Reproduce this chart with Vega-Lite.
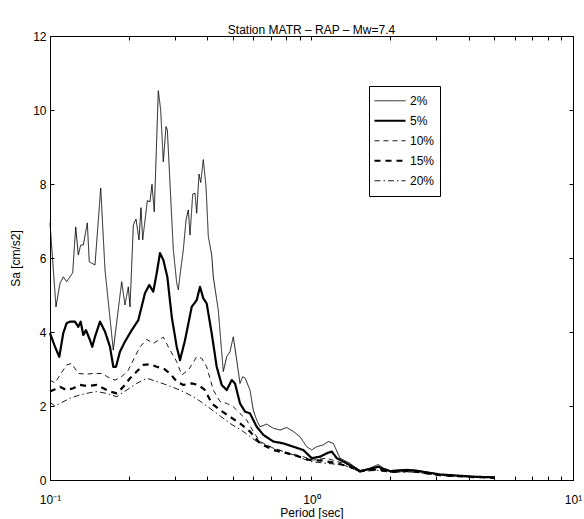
{
  "$schema": "https://vega.github.io/schema/vega-lite/v6.json",
  "width": 523,
  "height": 444,
  "autosize": "none",
  "padding": {"left": 50, "top": 36, "right": 11, "bottom": 39},
  "background": "white",
  "config": {
    "font": "Liberation Sans",
    "view": {"stroke": "black", "strokeWidth": 1},
    "axis": {"grid": false, "domainColor": "black", "tickColor": "black", "labelColor": "black", "titleColor": "black", "labelFontSize": 12, "titleFontSize": 12, "titleFontWeight": "normal", "labelFont": "Liberation Sans", "titleFont": "Liberation Sans"}
  },
  "title": {"text": "Station MATR – RAP – Mw=7.4", "fontSize": 12, "fontWeight": "normal", "color": "black", "offset": 0, "dy": 7, "anchor": "middle", "font": "Liberation Sans"},
  "data": {"values": [
    {"d":"2%","T":0.1,"Sa":6.95},{"d":"2%","T":0.1054,"Sa":4.68},{"d":"2%","T":0.1092,"Sa":5.32},{"d":"2%","T":0.1124,"Sa":5.49},{"d":"2%","T":0.1158,"Sa":5.36},{"d":"2%","T":0.1221,"Sa":5.6},{"d":"2%","T":0.1254,"Sa":6.84},{"d":"2%","T":0.1283,"Sa":6.08},{"d":"2%","T":0.131,"Sa":6.35},{"d":"2%","T":0.1341,"Sa":6.35},{"d":"2%","T":0.1389,"Sa":6.95},{"d":"2%","T":0.1413,"Sa":5.9},{"d":"2%","T":0.1486,"Sa":5.81},{"d":"2%","T":0.1563,"Sa":7.89},{"d":"2%","T":0.1623,"Sa":5.68},{"d":"2%","T":0.1746,"Sa":3.51},{"d":"2%","T":0.188,"Sa":5.36},{"d":"2%","T":0.1935,"Sa":4.73},{"d":"2%","T":0.1993,"Sa":5.22},{"d":"2%","T":0.2023,"Sa":4.68},{"d":"2%","T":0.2083,"Sa":6.89},{"d":"2%","T":0.2133,"Sa":7.05},{"d":"2%","T":0.2189,"Sa":6.49},{"d":"2%","T":0.2228,"Sa":7.36},{"d":"2%","T":0.2262,"Sa":6.49},{"d":"2%","T":0.2356,"Sa":7.55},{"d":"2%","T":0.2412,"Sa":7.52},{"d":"2%","T":0.2455,"Sa":7.99},{"d":"2%","T":0.2505,"Sa":7.25},{"d":"2%","T":0.2595,"Sa":10.52},{"d":"2%","T":0.265,"Sa":10.0},{"d":"2%","T":0.2712,"Sa":8.6},{"d":"2%","T":0.2777,"Sa":9.55},{"d":"2%","T":0.281,"Sa":9.46},{"d":"2%","T":0.2962,"Sa":6.22},{"d":"2%","T":0.3052,"Sa":5.32},{"d":"2%","T":0.3095,"Sa":5.14},{"d":"2%","T":0.3142,"Sa":5.54},{"d":"2%","T":0.3235,"Sa":6.22},{"d":"2%","T":0.3313,"Sa":7.03},{"d":"2%","T":0.3381,"Sa":7.3},{"d":"2%","T":0.3431,"Sa":6.62},{"d":"2%","T":0.3514,"Sa":7.73},{"d":"2%","T":0.3585,"Sa":7.75},{"d":"2%","T":0.3639,"Sa":7.21},{"d":"2%","T":0.3714,"Sa":8.27},{"d":"2%","T":0.377,"Sa":8.04},{"d":"2%","T":0.3857,"Sa":8.66},{"d":"2%","T":0.395,"Sa":7.93},{"d":"2%","T":0.4031,"Sa":6.58},{"d":"2%","T":0.4154,"Sa":6.08},{"d":"2%","T":0.4212,"Sa":5.49},{"d":"2%","T":0.4401,"Sa":4.59},{"d":"2%","T":0.4599,"Sa":2.93},{"d":"2%","T":0.4739,"Sa":3.33},{"d":"2%","T":0.4879,"Sa":3.47},{"d":"2%","T":0.5023,"Sa":3.87},{"d":"2%","T":0.5176,"Sa":3.24},{"d":"2%","T":0.5328,"Sa":2.61},{"d":"2%","T":0.5456,"Sa":2.79},{"d":"2%","T":0.5568,"Sa":2.76},{"d":"2%","T":0.5818,"Sa":2.43},{"d":"2%","T":0.5989,"Sa":1.89},{"d":"2%","T":0.6171,"Sa":1.62},{"d":"2%","T":0.6354,"Sa":1.44},{"d":"2%","T":0.6741,"Sa":1.51},{"d":"2%","T":0.7143,"Sa":1.4},{"d":"2%","T":0.7578,"Sa":1.35},{"d":"2%","T":0.804,"Sa":1.42},{"d":"2%","T":0.8521,"Sa":1.31},{"d":"2%","T":0.9036,"Sa":1.17},{"d":"2%","T":0.9587,"Sa":0.9},{"d":"2%","T":1.002,"Sa":0.81},{"d":"2%","T":1.047,"Sa":0.9},{"d":"2%","T":1.11,"Sa":0.95},{"d":"2%","T":1.159,"Sa":1.04},{"d":"2%","T":1.212,"Sa":0.99},{"d":"2%","T":1.285,"Sa":0.59},{"d":"2%","T":1.403,"Sa":0.45},{"d":"2%","T":1.533,"Sa":0.25},{"d":"2%","T":1.674,"Sa":0.32},{"d":"2%","T":1.801,"Sa":0.42},{"d":"2%","T":1.882,"Sa":0.32},{"d":"2%","T":1.996,"Sa":0.25},{"d":"2%","T":2.312,"Sa":0.29},{"d":"2%","T":2.525,"Sa":0.26},{"d":"2%","T":3.1,"Sa":0.15},{"d":"2%","T":4.157,"Sa":0.09},{"d":"2%","T":5.03,"Sa":0.07},
    {"d":"5%","T":0.1,"Sa":3.97},{"d":"5%","T":0.1045,"Sa":3.6},{"d":"5%","T":0.1085,"Sa":3.33},{"d":"5%","T":0.1124,"Sa":3.97},{"d":"5%","T":0.1158,"Sa":4.24},{"d":"5%","T":0.1192,"Sa":4.28},{"d":"5%","T":0.1246,"Sa":4.28},{"d":"5%","T":0.1283,"Sa":4.14},{"d":"5%","T":0.131,"Sa":4.28},{"d":"5%","T":0.1341,"Sa":3.92},{"d":"5%","T":0.1373,"Sa":4.05},{"d":"5%","T":0.1422,"Sa":3.78},{"d":"5%","T":0.1451,"Sa":3.6},{"d":"5%","T":0.1486,"Sa":3.87},{"d":"5%","T":0.1553,"Sa":4.28},{"d":"5%","T":0.1623,"Sa":4.01},{"d":"5%","T":0.1696,"Sa":3.6},{"d":"5%","T":0.1746,"Sa":3.06},{"d":"5%","T":0.1788,"Sa":3.06},{"d":"5%","T":0.1852,"Sa":3.47},{"d":"5%","T":0.1935,"Sa":3.74},{"d":"5%","T":0.2054,"Sa":4.05},{"d":"5%","T":0.2176,"Sa":4.32},{"d":"5%","T":0.2308,"Sa":5.05},{"d":"5%","T":0.2397,"Sa":5.27},{"d":"5%","T":0.2483,"Sa":5.09},{"d":"5%","T":0.2559,"Sa":5.59},{"d":"5%","T":0.2634,"Sa":6.13},{"d":"5%","T":0.2712,"Sa":5.95},{"d":"5%","T":0.281,"Sa":5.49},{"d":"5%","T":0.2921,"Sa":4.41},{"d":"5%","T":0.3052,"Sa":3.6},{"d":"5%","T":0.3142,"Sa":3.24},{"d":"5%","T":0.3284,"Sa":3.78},{"d":"5%","T":0.3483,"Sa":4.68},{"d":"5%","T":0.3639,"Sa":4.86},{"d":"5%","T":0.3747,"Sa":5.22},{"d":"5%","T":0.3857,"Sa":4.91},{"d":"5%","T":0.3974,"Sa":4.77},{"d":"5%","T":0.4154,"Sa":3.96},{"d":"5%","T":0.434,"Sa":3.06},{"d":"5%","T":0.4535,"Sa":2.57},{"d":"5%","T":0.4739,"Sa":2.43},{"d":"5%","T":0.4953,"Sa":2.7},{"d":"5%","T":0.5099,"Sa":2.61},{"d":"5%","T":0.5328,"Sa":2.07},{"d":"5%","T":0.5568,"Sa":1.85},{"d":"5%","T":0.5818,"Sa":1.8},{"d":"5%","T":0.6171,"Sa":1.44},{"d":"5%","T":0.6542,"Sa":1.22},{"d":"5%","T":0.7143,"Sa":1.04},{"d":"5%","T":0.7803,"Sa":0.99},{"d":"5%","T":0.8521,"Sa":0.9},{"d":"5%","T":0.9303,"Sa":0.81},{"d":"5%","T":1.002,"Sa":0.59},{"d":"5%","T":1.078,"Sa":0.63},{"d":"5%","T":1.143,"Sa":0.72},{"d":"5%","T":1.195,"Sa":0.77},{"d":"5%","T":1.249,"Sa":0.59},{"d":"5%","T":1.363,"Sa":0.45},{"d":"5%","T":1.533,"Sa":0.24},{"d":"5%","T":1.674,"Sa":0.3},{"d":"5%","T":1.801,"Sa":0.36},{"d":"5%","T":1.882,"Sa":0.3},{"d":"5%","T":1.996,"Sa":0.24},{"d":"5%","T":2.312,"Sa":0.27},{"d":"5%","T":2.525,"Sa":0.25},{"d":"5%","T":3.1,"Sa":0.15},{"d":"5%","T":4.157,"Sa":0.09},{"d":"5%","T":5.03,"Sa":0.07},
    {"d":"10%","T":0.1,"Sa":2.7},{"d":"10%","T":0.1045,"Sa":2.62},{"d":"10%","T":0.1092,"Sa":2.84},{"d":"10%","T":0.1158,"Sa":3.11},{"d":"10%","T":0.121,"Sa":3.15},{"d":"10%","T":0.1283,"Sa":2.88},{"d":"10%","T":0.1381,"Sa":2.86},{"d":"10%","T":0.1464,"Sa":2.88},{"d":"10%","T":0.1576,"Sa":2.88},{"d":"10%","T":0.1696,"Sa":2.75},{"d":"10%","T":0.1773,"Sa":2.7},{"d":"10%","T":0.188,"Sa":2.79},{"d":"10%","T":0.1993,"Sa":2.97},{"d":"10%","T":0.2113,"Sa":3.33},{"d":"10%","T":0.2209,"Sa":3.6},{"d":"10%","T":0.2343,"Sa":3.8},{"d":"10%","T":0.2483,"Sa":3.69},{"d":"10%","T":0.2712,"Sa":3.86},{"d":"10%","T":0.2877,"Sa":3.51},{"d":"10%","T":0.3052,"Sa":3.2},{"d":"10%","T":0.3189,"Sa":2.84},{"d":"10%","T":0.3381,"Sa":2.97},{"d":"10%","T":0.3639,"Sa":3.33},{"d":"10%","T":0.3803,"Sa":3.29},{"d":"10%","T":0.3974,"Sa":3.06},{"d":"10%","T":0.4212,"Sa":2.43},{"d":"10%","T":0.4468,"Sa":2.12},{"d":"10%","T":0.4739,"Sa":2.07},{"d":"10%","T":0.5023,"Sa":1.98},{"d":"10%","T":0.5328,"Sa":1.8},{"d":"10%","T":0.5652,"Sa":1.62},{"d":"10%","T":0.5989,"Sa":1.31},{"d":"10%","T":0.6354,"Sa":1.04},{"d":"10%","T":0.7143,"Sa":0.86},{"d":"10%","T":0.8277,"Sa":0.72},{"d":"10%","T":0.9303,"Sa":0.63},{"d":"10%","T":1.016,"Sa":0.54},{"d":"10%","T":1.143,"Sa":0.59},{"d":"10%","T":1.249,"Sa":0.5},{"d":"10%","T":1.403,"Sa":0.41},{"d":"10%","T":1.533,"Sa":0.24},{"d":"10%","T":1.674,"Sa":0.28},{"d":"10%","T":1.801,"Sa":0.3},{"d":"10%","T":1.996,"Sa":0.23},{"d":"10%","T":2.312,"Sa":0.25},{"d":"10%","T":2.525,"Sa":0.23},{"d":"10%","T":3.1,"Sa":0.14},{"d":"10%","T":4.157,"Sa":0.09},{"d":"10%","T":5.03,"Sa":0.07},
    {"d":"15%","T":0.1,"Sa":2.39},{"d":"15%","T":0.1045,"Sa":2.45},{"d":"15%","T":0.1092,"Sa":2.52},{"d":"15%","T":0.1158,"Sa":2.43},{"d":"15%","T":0.1228,"Sa":2.48},{"d":"15%","T":0.1302,"Sa":2.57},{"d":"15%","T":0.1381,"Sa":2.54},{"d":"15%","T":0.1509,"Sa":2.57},{"d":"15%","T":0.1599,"Sa":2.48},{"d":"15%","T":0.1696,"Sa":2.39},{"d":"15%","T":0.18,"Sa":2.34},{"d":"15%","T":0.1907,"Sa":2.52},{"d":"15%","T":0.2023,"Sa":2.75},{"d":"15%","T":0.2146,"Sa":2.93},{"d":"15%","T":0.2274,"Sa":3.11},{"d":"15%","T":0.2412,"Sa":3.13},{"d":"15%","T":0.2559,"Sa":3.06},{"d":"15%","T":0.2712,"Sa":3.02},{"d":"15%","T":0.2877,"Sa":2.88},{"d":"15%","T":0.3052,"Sa":2.66},{"d":"15%","T":0.3235,"Sa":2.57},{"d":"15%","T":0.3483,"Sa":2.61},{"d":"15%","T":0.3691,"Sa":2.57},{"d":"15%","T":0.3915,"Sa":2.43},{"d":"15%","T":0.4154,"Sa":2.07},{"d":"15%","T":0.4468,"Sa":1.89},{"d":"15%","T":0.4879,"Sa":1.71},{"d":"15%","T":0.5328,"Sa":1.53},{"d":"15%","T":0.5818,"Sa":1.31},{"d":"15%","T":0.6354,"Sa":0.99},{"d":"15%","T":0.7143,"Sa":0.81},{"d":"15%","T":0.8521,"Sa":0.68},{"d":"15%","T":0.9869,"Sa":0.54},{"d":"15%","T":1.11,"Sa":0.52},{"d":"15%","T":1.249,"Sa":0.45},{"d":"15%","T":1.403,"Sa":0.36},{"d":"15%","T":1.533,"Sa":0.23},{"d":"15%","T":1.674,"Sa":0.27},{"d":"15%","T":1.801,"Sa":0.28},{"d":"15%","T":1.996,"Sa":0.22},{"d":"15%","T":2.312,"Sa":0.24},{"d":"15%","T":2.525,"Sa":0.22},{"d":"15%","T":3.1,"Sa":0.13},{"d":"15%","T":4.157,"Sa":0.08},{"d":"15%","T":5.03,"Sa":0.06},
    {"d":"20%","T":0.1,"Sa":2.1},{"d":"20%","T":0.1045,"Sa":2.0},{"d":"20%","T":0.1092,"Sa":2.07},{"d":"20%","T":0.1192,"Sa":2.21},{"d":"20%","T":0.1302,"Sa":2.3},{"d":"20%","T":0.1422,"Sa":2.36},{"d":"20%","T":0.1509,"Sa":2.39},{"d":"20%","T":0.1647,"Sa":2.34},{"d":"20%","T":0.18,"Sa":2.25},{"d":"20%","T":0.1965,"Sa":2.43},{"d":"20%","T":0.2146,"Sa":2.61},{"d":"20%","T":0.2343,"Sa":2.75},{"d":"20%","T":0.2559,"Sa":2.66},{"d":"20%","T":0.2795,"Sa":2.57},{"d":"20%","T":0.3142,"Sa":2.43},{"d":"20%","T":0.3532,"Sa":2.25},{"d":"20%","T":0.3857,"Sa":2.07},{"d":"20%","T":0.434,"Sa":1.8},{"d":"20%","T":0.4879,"Sa":1.53},{"d":"20%","T":0.5485,"Sa":1.31},{"d":"20%","T":0.6171,"Sa":1.04},{"d":"20%","T":0.7143,"Sa":0.86},{"d":"20%","T":0.8521,"Sa":0.68},{"d":"20%","T":0.9869,"Sa":0.5},{"d":"20%","T":1.143,"Sa":0.45},{"d":"20%","T":1.323,"Sa":0.41},{"d":"20%","T":1.533,"Sa":0.22},{"d":"20%","T":1.674,"Sa":0.25},{"d":"20%","T":1.801,"Sa":0.26},{"d":"20%","T":1.996,"Sa":0.21},{"d":"20%","T":2.312,"Sa":0.22},{"d":"20%","T":2.525,"Sa":0.21},{"d":"20%","T":3.1,"Sa":0.12},{"d":"20%","T":4.157,"Sa":0.08},{"d":"20%","T":5.03,"Sa":0.06}
  ]},
  "layer": [
    {
      "mark": {"type": "line", "color": "black", "strokeJoin": "round"},
      "encoding": {
        "x": {"field": "T", "type": "quantitative", "scale": {"type": "log", "domain": [0.1, 10]},
          "axis": {"orient": "bottom", "values": [0.1, 1, 10],
            "labelExpr": "datum.value == 0.1 ? '10⁻¹' : datum.value == 1 ? '10⁰' : '10¹'",
            "ticks": false, "labelPadding": 14, "labelFlush": false, "labelOverlap": false, "title": "Period [sec]", "titlePadding": 2}},
        "y": {"field": "Sa", "type": "quantitative", "scale": {"domain": [0, 12]},
          "axis": {"orient": "left", "values": [0,2,4,6,8,10,12], "ticks": false, "labelPadding": 4, "labelFlush": false, "title": "Sa [cm/s2]", "titlePadding": 10}},
        "strokeDash": {"field": "d", "type": "nominal",
          "scale": {"domain": ["2%","5%","10%","15%","20%"], "range": [[1,0],[1,0],[5,4],[6,5],[6,3,1.5,3]]},
          "legend": {"orient": "none", "legendX": 319, "legendY": 50, "title": null, "strokeColor": "black", "fillColor": "white", "padding": 5, "symbolType": "stroke", "symbolSize": 961, "symbolStrokeColor": "black", "labelFontSize": 12, "labelColor": "black", "labelFont": "Liberation Sans", "clipHeight": 19.5, "rowPadding": 0, "labelOffset": 4, "cornerRadius": 0,
            "encode": {"symbols": {"update": {"strokeWidth": {"signal": "(datum.value == '5%' || datum.value == '15%' ? 2.2 : 0.9)"}}}}}},
        "strokeWidth": {"condition": {"test": "datum.d == '5%' || datum.d == '15%'", "value": 2.2}, "value": 0.9}
      }
    },
    {
      "mark": {"type": "point", "opacity": 0},
      "encoding": {
        "x": {"field": "T", "type": "quantitative",
          "axis": {"orient": "bottom", "values": [0.1,0.2,0.3,0.4,0.5,0.6,0.7,0.8,0.9,1,2,3,4,5,6,7,8,9,10], "labels": false, "domain": false, "tickSize": 4, "offset": -4, "title": null}},
        "y": {"field": "Sa", "type": "quantitative",
          "axis": {"orient": "left", "values": [0,2,4,6,8,10,12], "labels": false, "domain": false, "tickSize": 4, "offset": -4, "title": null}}
      }
    },
    {
      "mark": {"type": "point", "opacity": 0},
      "encoding": {
        "x": {"field": "T", "type": "quantitative",
          "axis": {"orient": "top", "values": [0.1,0.2,0.3,0.4,0.5,0.6,0.7,0.8,0.9,1,2,3,4,5,6,7,8,9,10], "labels": false, "domain": false, "tickSize": 4, "offset": -4, "title": null}},
        "y": {"field": "Sa", "type": "quantitative",
          "axis": {"orient": "right", "values": [0,2,4,6,8,10,12], "labels": false, "domain": false, "tickSize": 4, "offset": -4, "title": null}}
      }
    }
  ],
  "resolve": {"axis": {"x": "independent", "y": "independent"}}
}
